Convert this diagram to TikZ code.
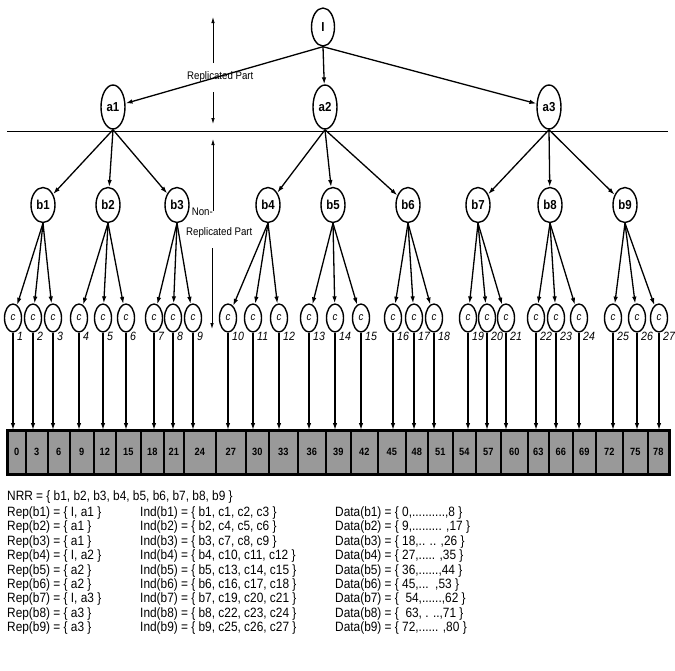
\documentclass[tikz,border=0pt]{standalone}
\usepackage{fontspec}
\setmainfont{Liberation Sans}[FakeStretch=0.88]
\usetikzlibrary{arrows.meta,shapes.geometric}
\begin{document}
\begin{tikzpicture}[x=1pt,y=-1pt,
  nd/.style={draw,ellipse,line width=1.4pt,inner sep=0pt,fill=white},
  inode/.style={nd,minimum width=23pt,minimum height=38pt,font=\bfseries\fontsize{13}{13}\selectfont},
  anode/.style={nd,minimum width=24pt,minimum height=44pt,font=\bfseries\fontsize{13}{13}\selectfont},
  bnode/.style={nd,minimum width=24pt,minimum height=35pt,font=\bfseries\fontsize{13}{13}\selectfont},
  cnode/.style={nd,minimum width=17pt,minimum height=28pt,font=\itshape\fontsize{11}{11}\selectfont},
  edge/.style={line width=1.3pt,-{Latex[length=7pt,width=4.5pt]}},
  annot/.style={line width=0.8pt,-{Latex[length=6pt,width=3.5pt]}},
  cell/.style={draw,line width=1.6pt,fill=black!40,minimum height=43pt,inner sep=0pt,anchor=north west,font=\bfseries\fontsize{10.5}{10.5}\selectfont},
  num/.style={font=\itshape\fontsize{12}{12}\selectfont,anchor=west,inner sep=0pt},
  txt/.style={anchor=west,inner sep=0pt,font=\fontsize{13.5}{13.5}\selectfont},
  lab/.style={anchor=west,inner sep=0pt,font=\fontsize{11}{11}\selectfont}
]
\useasboundingbox (0,0) rectangle (675,670);

% tree nodes
\node[inode] (I) at (323,27) {I};
\node[anode] (a1) at (113,107) {a1};
\node[anode] (a2) at (325,107) {a2};
\node[anode] (a3) at (549,107) {a3};

\foreach \x [count=\i] in {43,108,177,268,333,408,478,550,625}
  \node[bnode] (b\i) at (\x,205) {b\i};

\foreach \x [count=\i] in {13,33,53,79,103,126,154,173,193,228,253,279,309,335,361,393,414,434,468,487,506,536,556,579,613,637,659}{
  \node[cnode] (c\i) at (\x,318) {c};
  \node[num] (n\i) at (\x+4,336) {\i};
}

% data array
\foreach \l/\r/\v [count=\i] in {7/25/0,25/47/3,47/69/6,69/93/9,93/115/12,115/140/15,140/163/18,163/183/21,183/215/24,215/245/27,245/268/30,268/297/33,297/325/36,325/350/39,350/377/42,377/405/45,405/427/48,427/452/51,452/475/54,475/500/57,500/527/60,527/548/63,548/572/66,572/595/69,595/622/72,622/647/75,647/668/78}
  \node[cell,minimum width={(\r-\l)*1pt}] (d\i) at (\l,430) {\v};
\draw[line width=2.6pt] (d1.north west) rectangle (d27.south east);

% separation line
\coordinate (L0) at (7,131);
\coordinate (L1) at (668,131);
\draw[line width=1pt] (L0) -- (L1);

% edges
\foreach \j in {1,2,3} \draw[edge] (I.south) -- (a\j);
\foreach \j in {1,...,9}{
  \pgfmathtruncatemacro\aa{int((\j-1)/3)+1}
  \draw[edge] (a\aa.south) -- (b\j);
  \foreach \k in {0,1,2}{
    \pgfmathtruncatemacro\ci{3*\j-2+\k}
    \draw[edge] (b\j.south) -- (c\ci);
  }
}
\foreach \i in {1,...,27}
  \draw[edge] (c\i.south) -- (c\i.south |- d\i.north);

% annotations
\node[lab] (rp1) at (187,77) {Replicated Part};
\coordinate (u1a) at (213,63); \coordinate (u1b) at (213,17);
\draw[annot] (u1a) -- (u1b);
\coordinate (v1a) at (213,92); \coordinate (v1b) at (213,124);
\draw[annot] (v1a) -- (v1b);

\node[lab,anchor=east] (non) at (213,212) {Non-};
\coordinate (u2a) at (213,211); \coordinate (u2b) at (213,139);
\draw[annot] (u2a) -- (u2b);
\node[lab] (rp2) at (186,233) {Replicated Part};
\coordinate (v2a) at (212,248); \coordinate (v2b) at (212,329);
\draw[annot] (v2a) -- (v2b);

% text
\node[txt] (nrr) at (7,497) {NRR = \{ b1, b2, b3, b4, b5, b6, b7, b8, b9 \}};
\foreach \r/\ind/\dat [count=\k] in {
  {I, a1}/{b1, c1, c2, c3}/{0,..........,8},
  {a1}/{b2, c4, c5, c6}/{9,......... ,17},
  {a1}/{b3, c7, c8, c9}/{18,.. .. ,26},
  {I, a2}/{b4, c10, c11, c12}/{27,..... ,35},
  {a2}/{b5, c13, c14, c15}/{36,......,44},
  {a2}/{b6, c16, c17, c18}/{45,...\ \ ,53},
  {I, a3}/{b7, c19, c20, c21}/{\ 54,......,62},
  {a3}/{b8, c22, c23, c24}/{\ 63, . ..,71},
  {a3}/{b9, c25, c26, c27}/{72,...... ,80}}{
  \node[txt] (rep\k) at (7,{513+14.4*(\k-1)}) {Rep(b\k) = \{ \r\ \}};
  \node[txt] (ind\k) at (140,{513+14.4*(\k-1)}) {Ind(b\k) = \{ \ind\ \}};
  \node[txt] (dat\k) at (335,{513+14.4*(\k-1)}) {Data(b\k) = \{ \dat\ \}};
}
\end{tikzpicture}
\end{document}
